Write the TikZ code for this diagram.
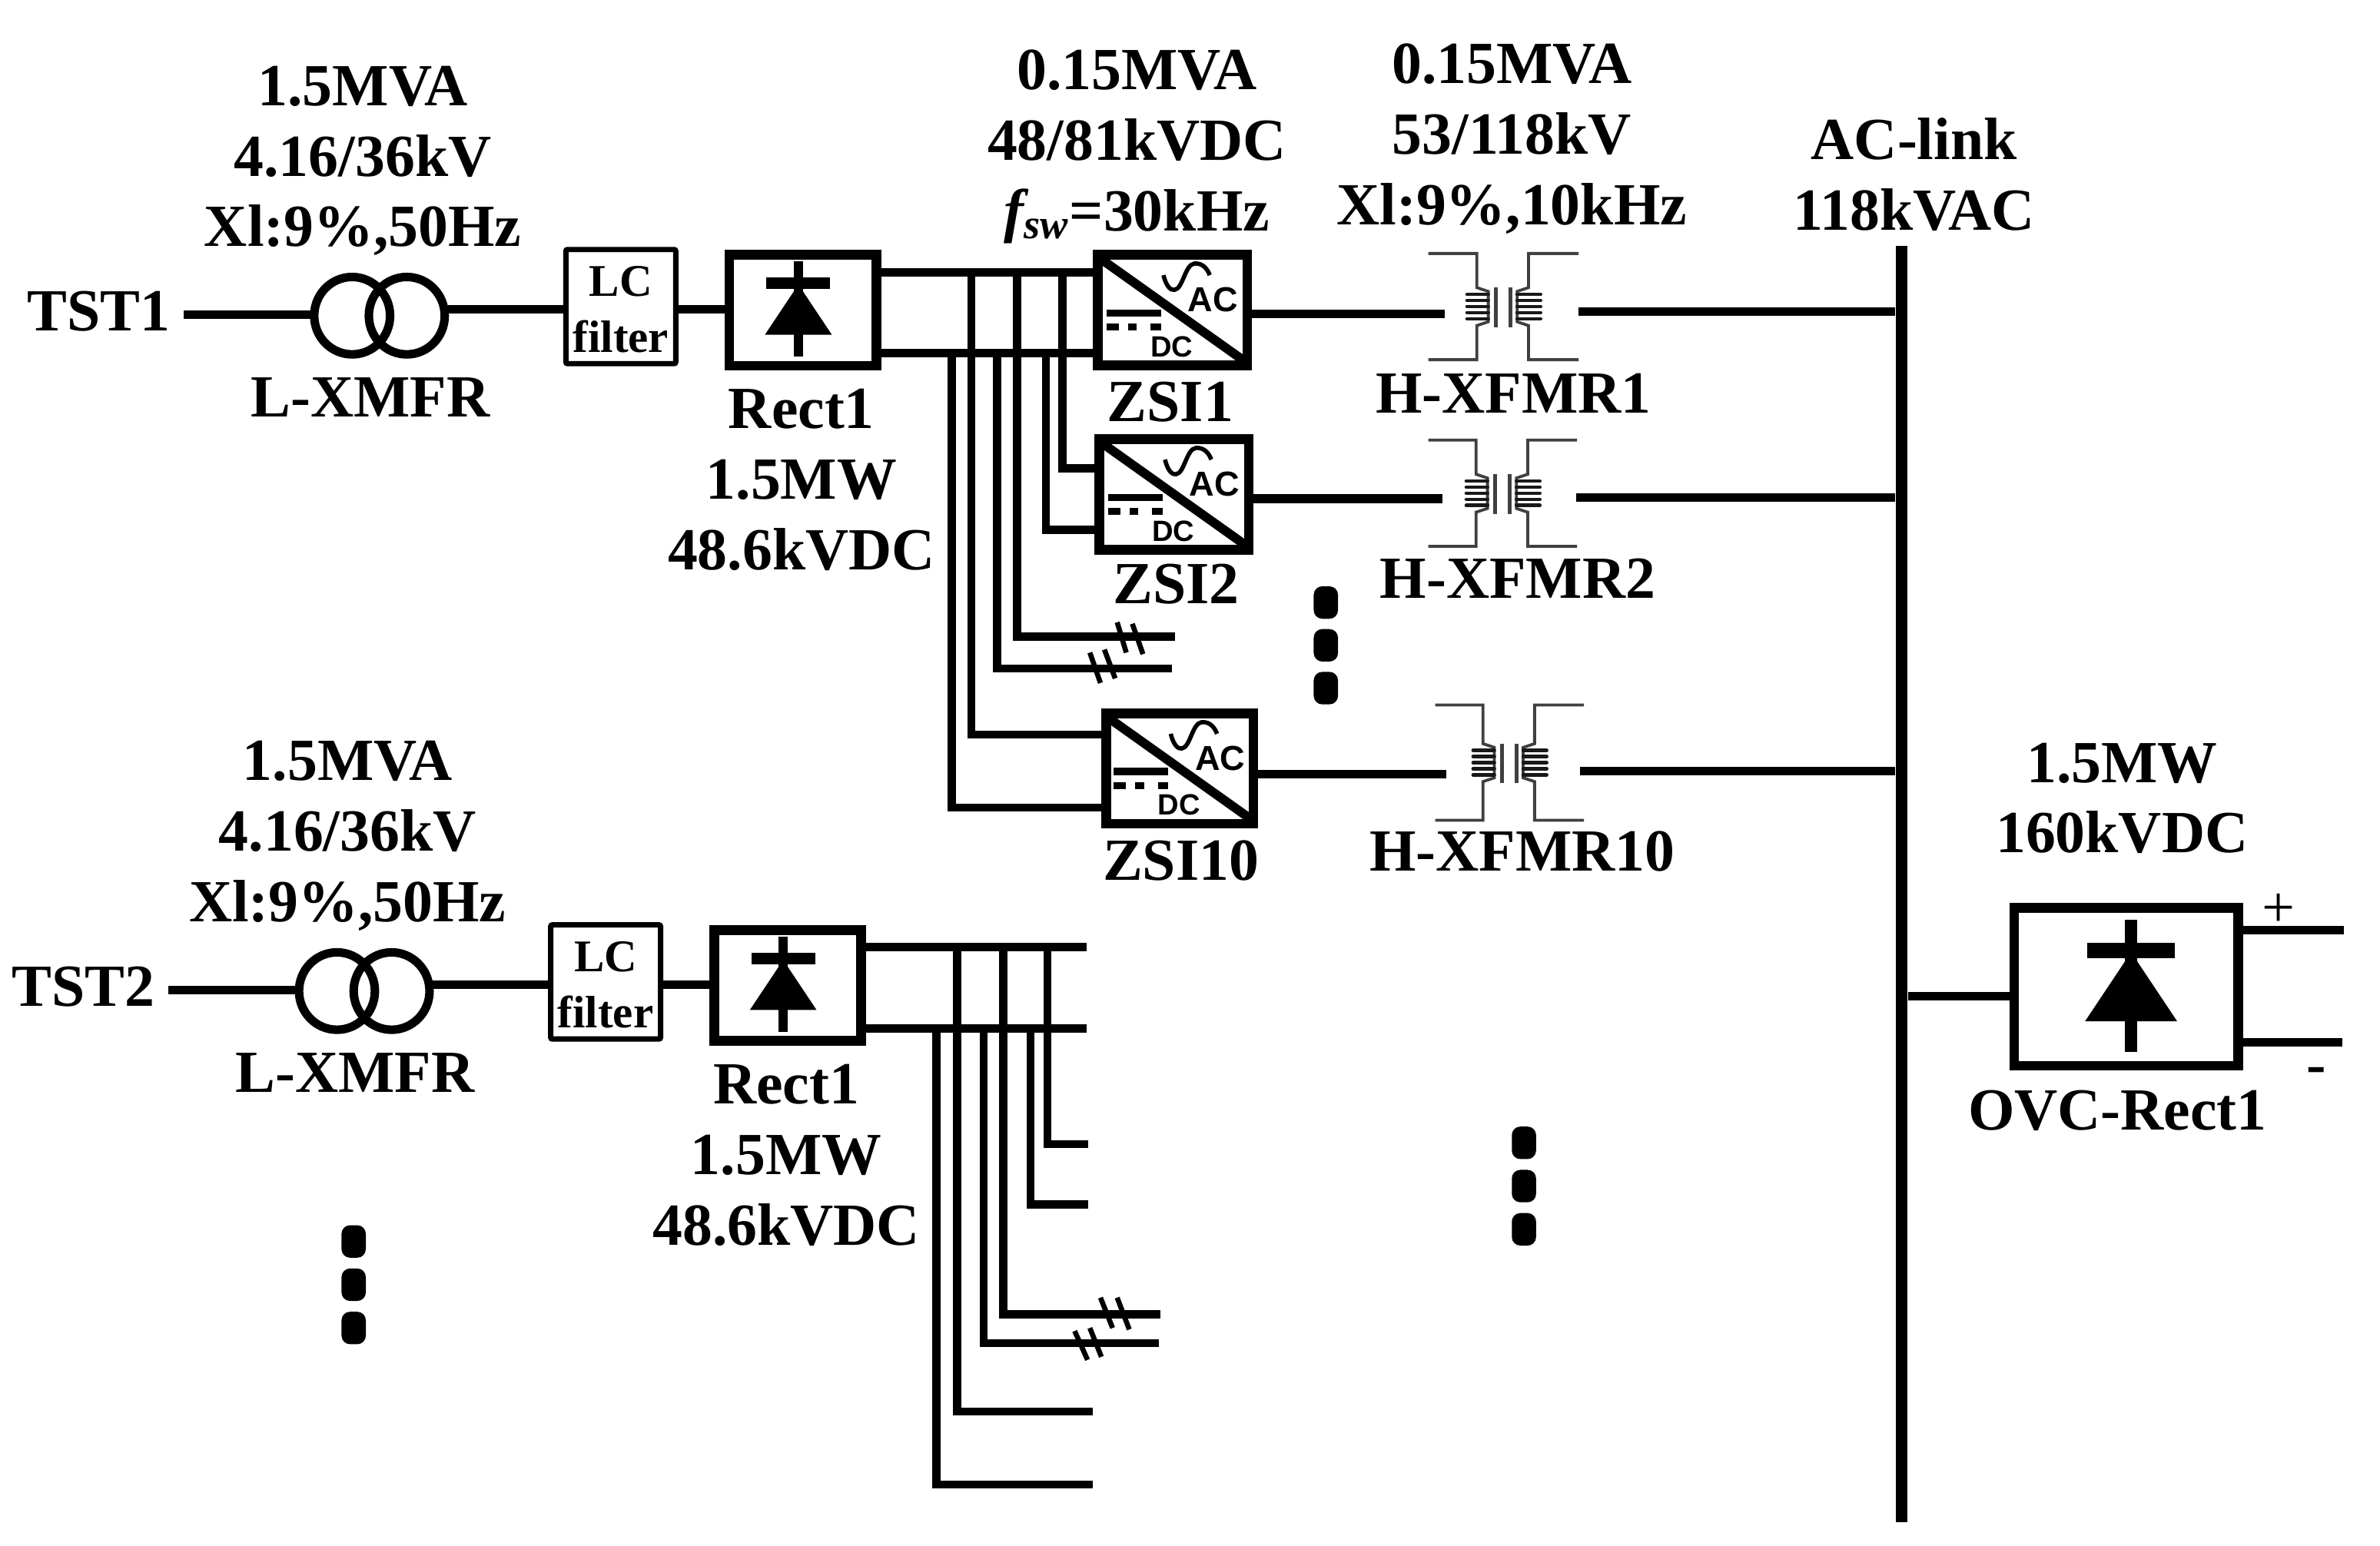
\documentclass[tikz,border=0pt]{standalone}
\usepackage{fontspec}
\usetikzlibrary{calc}
\setmainfont{Liberation Serif}
\setsansfont{Liberation Sans}
\tikzset{
  x=0.02cm,y=-0.02cm,
  wire/.style={line width=3.2pt,black},
  thinw/.style={line width=3pt,black},
  hatch/.style={line width=1.9pt,black},
  lbl/.style={font=\bfseries\fontsize{22.4}{26.5}\selectfont,align=center,inner sep=0pt,outer sep=0pt},
  blockbox/.style={draw=black,fill=white,line width=3.7pt,rectangle,inner sep=0pt},
  lcbox/.style={draw=black,fill=white,line width=2pt,rectangle,inner sep=0pt,rounded corners=0.6pt,
    minimum width=41.2pt,minimum height=42.8pt},
  lctext/.style={font=\bfseries\fontsize{17}{21}\selectfont,align=center,inner sep=0pt},
  iconac/.style={font=\sffamily\bfseries\fontsize{13}{14}\selectfont,inner sep=0pt},
  icondc/.style={font=\sffamily\bfseries\fontsize{11}{12}\selectfont,inner sep=0pt},
  xf/.style={draw=black!75,line width=1.1pt},
  dotbar/.style={fill=black,rounded corners=3.2pt},
}
\newcommand\zsibox[5]{% name, cx, cy, w, h (outer, in units)
  \node[blockbox,minimum width=#4*0.569pt-3.7pt,minimum height=#5*0.569pt-3.7pt] (#1) at (#2,#3) {};
  \begin{scope}[shift={(#2,#3)}]
    \draw[line width=3.4pt] (-47,-33.5) -- (46.5,33);
    \draw[line width=1.6pt] (-6,-23) .. controls (-4,-15) and (-1,-13) .. (1.2,-13.3)
      .. controls (7,-14) and (8,-30) .. (14.5,-30.7) .. controls (20,-31) and (23,-27) .. (24.5,-23);
    \node[iconac] (#1ac) at (26.5,-7) {AC};
    \node[icondc] (#1dc) at (-0.5,24) {DC};
    \fill (-43.5,-0.5) rectangle (-7.5,4.3);
    \fill (-43.5,8.7) rectangle (-35.5,13.3);
    \fill (-29.5,8.7) rectangle (-23.5,13.3);
    \fill (-14.5,8.7) rectangle (-7.5,13.3);
  \end{scope}
}
\newcommand\hxfmr[5]{% name, cx, cy, half width, half height
  \coordinate (#1) at (#2,#3);
  \coordinate (#1w) at ($(#2,#3)+(-38.5,5)$);
  \coordinate (#1e) at ($(#2,#3)+(49.5,3.5)$);
  \begin{scope}[shift={(#2,#3)}]
    \draw[xf] (-#4,-#5) -- (-17.5,-#5) -- (-17.5,-12.5) -- (-10,-10) -- (-10,10) -- (-17.5,12.5) -- (-17.5,#5) -- (-#4,#5);
    \draw[xf] (#4,-#5) -- (16.5,-#5) -- (16.5,-12.5) -- (9,-10) -- (9,10) -- (16.5,12.5) -- (16.5,#5) -- (#4,#5);
    \foreach \yy in {-8,-4,0,4,8}{
      \draw[line width=1.3pt,line cap=round,black!90] (-24,\yy) -- (-10,\yy);
      \draw[line width=1.3pt,line cap=round,black!90] (9,\yy) -- (24.5,\yy);
    }
    \draw[xf,line width=1.4pt] (-5,-12.5) -- (-5,13.5);
    \draw[xf,line width=1.4pt] (4.5,-12.5) -- (4.5,13.5);
  \end{scope}
}
\newcommand\diode[4]{% cx, cy, scale, stem width
  \begin{scope}[shift={(#1,#2)},scale=#3]
    \draw[line width=#4] (0,-31.5) -- (0,31.5);
    \fill (-21,-20.5) rectangle (21,-13);
    \fill (0,-16) -- (22,17) -- (-22,17) -- cycle;
  \end{scope}
}
\newcommand\feeder[4]{% prefix, TST label, dx, dy
  \begin{scope}[shift={(#3,#4)}]
    \node[lbl] (#1top) at (239,106) {1.5MVA\\4.16/36kV\\Xl:9\%,50Hz};
    \node[lbl] (#1tst) at (65,205) {#2};
    \node[lbl] (#1name) at (244,262) {L-XMFR};
    \node[inner sep=0pt,minimum size=0pt] (#1c1) at (232,208) {};
    \node[inner sep=0pt,minimum size=0pt] (#1c2) at (268,208) {};
    \node[lcbox] (#1lc) at (409,202) {};
    \node[lctext] (#1lct) at (409,204) {LC\\filter};
    \node[blockbox,minimum width=55.2pt,minimum height=41.5pt] (#1rect) at (529,204.5) {};
    \coordinate (#1a) at (121,207.5);
    \coordinate (#1b) at (207,207.5);
    \coordinate (#1d) at (295,204);
    \coordinate (#1f) at (460,204);
    \draw[wire] (#1a) -- (#1b);
    \draw[wire] (#1d) -- (#1d -| #1lc.west);
    \draw[wire] (#1f -| #1lc.east) -- (#1f -| #1rect.west);
    \draw[line width=3.2pt] (#1c1) ellipse [x radius=25,y radius=25.5];
    \draw[line width=3.2pt] (#1c2) ellipse [x radius=25,y radius=25.5];
    \node[lbl] (#1rl) at (528,316) {Rect1\\1.5MW\\48.6kVDC};
  \end{scope}
  \diode{526+#3}{203.5+#4}{1}{3.4pt}
}
\newcommand\vbars[3]{% cx, y1, step
  \foreach \i in {0,1,2}{
    \fill[dotbar] ({#1-8},{#2+\i*#3-10.7}) rectangle ({#1+8},{#2+\i*#3+10.7});
  }
}
\begin{document}
\begin{tikzpicture}
\useasboundingbox (0,0) rectangle (1568,1018.3);

% common bus
\node[fill=black,inner sep=0pt,minimum width=4.3pt,minimum height=478.5pt] (bus) at (1252.8,582.5) {};

% feeders
\feeder{u}{TST1}{0}{0}
\feeder{v}{TST2}{-10}{445}

% DC rails of feeder 1
\coordinate (ut) at (660,179.5);
\coordinate (ub) at (660,232.7);
\foreach \n/\x in {p/640,q/670,r/700}{
  \coordinate (ur\n) at (\x,179.5);
  \coordinate (us\n) at (\x,232.7);
  \draw[thinw] (ur\n) -- (us\n);
}
\foreach \n/\x/\yy/\ex in {a/627/532/726,b/640/484/726,c/657/440.5/772,d/670/419.5/774,e/689/349/721,f/700/308.5/721}{
  \coordinate (us\n) at (\x,232.7);
  \coordinate (ue\n) at (\ex,\yy);
  \draw[thinw] (us\n) |- (ue\n);
}

% DC rails of feeder 2
\coordinate (vt) at (716,624);
\coordinate (vb) at (716,677.5);
\draw[wire] (vrect.east |- vt) -- (vt);
\draw[wire] (vrect.east |- vb) -- (vb);
\foreach \n/\x in {p/630.5,q/661,r/690}{
  \coordinate (vr\n) at (\x,624);
  \coordinate (vs\n) at (\x,677.5);
  \draw[thinw] (vr\n) -- (vs\n);
}
\foreach \n/\x/\yy/\ex in {a/617/978/720,b/630.5/930/720,c/648/885/763.6,d/661/866/764.6,e/679/793.6/717,f/690/754/717}{
  \coordinate (vs\n) at (\x,677.5);
  \coordinate (ve\n) at (\ex,\yy);
  \draw[thinw] (vs\n) |- (ve\n);
}

% inverters
\zsibox{zsia}{772.5}{204.3}{105}{79.5}
\zsibox{zsib}{773.5}{325.8}{105}{79.5}
\zsibox{zsic}{777.3}{506.5}{103.5}{79}

\draw[wire] (urect.east |- ut) -- (ut -| zsia.west);
\draw[wire] (urect.east |- ub) -- (ub -| zsia.west);

% transformers
\hxfmr{hxa}{990.5}{202}{49.5}{35}
\hxfmr{hxb}{990}{325}{49}{35}
\hxfmr{hxc}{994.5}{502.5}{49}{38}
\coordinate (hxbw) at (950.5,328.6);
\coordinate (hxbe) at (1038.6,327.6);
\coordinate (hxcw) at (952.6,510);
\coordinate (hxce) at (1041,508);

\draw[wire] (hxaw -| zsia.east) -- (hxaw);
\draw[wire] (hxbw -| zsib.east) -- (hxbw);
\draw[wire] (hxcw -| zsic.east) -- (hxcw);
\draw[wire] (hxae) -- (hxae -| bus.west);
\draw[wire] (hxbe) -- (hxbe -| bus.west);
\draw[wire] (hxce) -- (hxce -| bus.west);

% hatch marks
\draw[hatch] (736,410) -- (742,430);
\draw[hatch] (746,411) -- (753,431);
\draw[hatch] (718,430) -- (725,450);
\draw[hatch] (727.6,428) -- (734.7,447);
\draw[hatch] (725,855) -- (733,875);
\draw[hatch] (736,855) -- (744,876);
\draw[hatch] (708,877) -- (716.5,896);
\draw[hatch] (718,875) -- (725.6,894);

% output rectifier
\node[blockbox,minimum width=84pt,minimum height=59.2pt] (ovc) at (1400.8,650.2) {};
\coordinate (ovcin) at (1300,656.6);
\coordinate (ovcp) at (1544,613);
\coordinate (ovcn) at (1543,687);
\draw[wire] (ovcin -| bus.east) -- (ovcin -| ovc.west);
\draw[wire] (ovcp -| ovc.east) -- (ovcp);
\draw[wire] (ovcn -| ovc.east) -- (ovcn);
\diode{1404}{649.5}{1.38}{4.8pt}

% ellipsis bars
\vbars{873.5}{397}{28.2}
\vbars{1004}{753}{28.5}
\vbars{233}{818}{28.5}

% labels
\node[lbl] (la) at (749,96.5) {0.15MVA\\48/81kVDC\\\textit{f\textsubscript{sw}}=30kHz};
\node[lbl] (lb) at (996,91.5) {0.15MVA\\53/118kV\\Xl:9\%,10kHz};
\node[lbl] (lc) at (1261,115) {AC-link\\118kVAC};
\node[lbl] (za) at (771,265) {ZSI1};
\node[lbl] (zb) at (775,385) {ZSI2};
\node[lbl] (zc) at (778,567) {ZSI10};
\node[lbl] (xa) at (997,259) {H-XFMR1};
\node[lbl] (xb) at (1000,381) {H-XFMR2};
\node[lbl] (xc) at (1003,561) {H-XFMR10};
\node[lbl] (ol) at (1398,526) {1.5MW\\160kVDC};
\node[lbl] (on) at (1395,732) {OVC-Rect1};
\node[font=\fontsize{22}{24}\selectfont,inner sep=0pt] (pl) at (1501,600) {+};
\node[font=\bfseries\fontsize{22}{24}\selectfont,inner sep=0pt] (mi) at (1526,709) {-};
\end{tikzpicture}
\end{document}
